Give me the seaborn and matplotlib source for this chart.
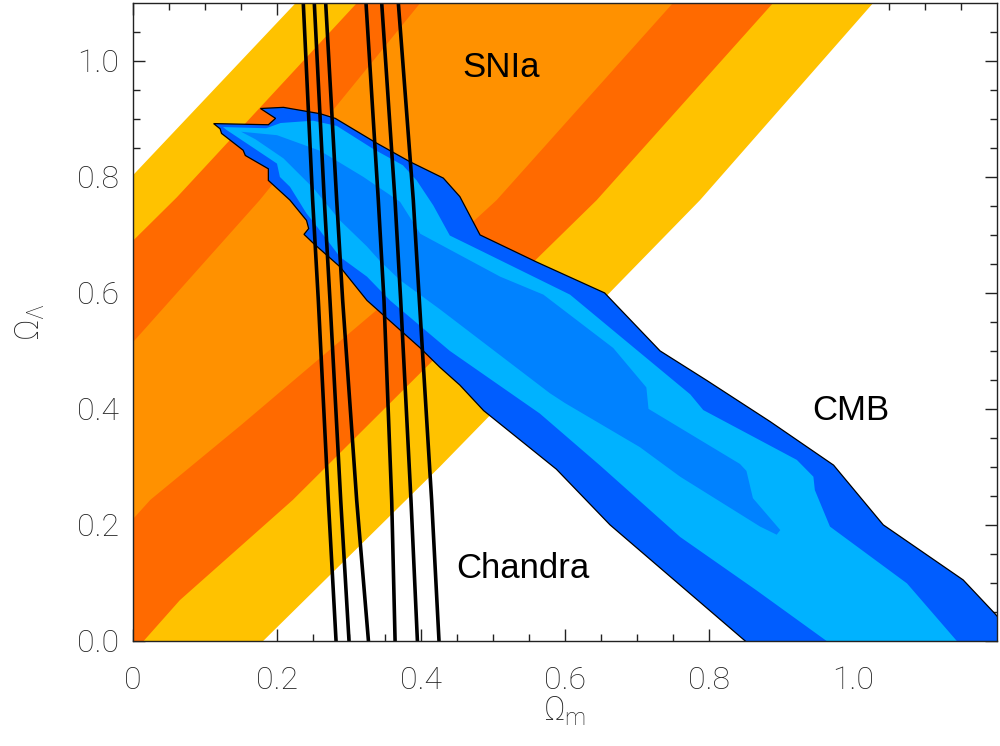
import numpy as np
import pandas as pd
import matplotlib
matplotlib.use("Agg")
import matplotlib.pyplot as plt
import seaborn as sns

# SNIa band edges (Omega_m, Omega_Lambda), each line runs a bit past the frame
yellow_upper_om = [-0.10, 0.0, 0.226, 0.30]
yellow_upper_ol = [0.67, 0.803, 1.10, 1.20]
dark_upper_om = [-0.10, 0.0, 0.061, 0.311, 0.385]
dark_upper_ol = [0.56, 0.69, 0.765, 1.10, 1.20]
orange_upper_om = [-0.10, 0.0, 0.176, 0.399, 0.465]
orange_upper_ol = [0.37, 0.515, 0.76, 1.10, 1.20]
orange_lower_om = [-0.10, 0.0, 0.024, 0.15, 0.338, 0.505, 0.75, 0.82]
orange_lower_ol = [0.11, 0.21, 0.243, 0.372, 0.57, 0.76, 1.10, 1.20]
dark_lower_om = [-0.08, 0.015, 0.065, 0.222, 0.417, 0.644, 0.889, 0.96]
dark_lower_ol = [-0.10, 0.0, 0.07, 0.243, 0.484, 0.76, 1.10, 1.20]
yellow_lower_om = [0.10, 0.181, 0.426, 0.7875, 1.028, 1.10]
yellow_lower_ol = [-0.10, 0.0, 0.30, 0.76, 1.10, 1.20]

# CMB contours (outer = 3 sigma, mid = 2 sigma, inner = 1 sigma)
cmb3_om = [0.112, 0.188, 0.198, 0.177, 0.209, 0.260, 0.281, 0.336, 0.385, 0.431,
           0.454, 0.482, 0.561, 0.655, 0.732, 0.797, 0.885, 0.973, 1.042, 1.153,
           1.197, 1.23, 1.23, 0.90, 0.85, 0.760, 0.6625, 0.588, 0.487, 0.454,
           0.426, 0.399, 0.371, 0.325, 0.2875, 0.251, 0.2375, 0.244, 0.241, 0.218,
           0.188, 0.188, 0.156, 0.153, 0.123, 0.121]
cmb3_ol = [0.892, 0.890, 0.901, 0.918, 0.920, 0.909, 0.901, 0.860, 0.826, 0.798,
           0.766, 0.700, 0.653, 0.600, 0.500, 0.449, 0.378, 0.303, 0.200, 0.105,
           0.047, 0.0, -0.05, -0.05, 0.0, 0.096, 0.200, 0.296, 0.397, 0.441,
           0.472, 0.505, 0.536, 0.587, 0.645, 0.685, 0.701, 0.711, 0.725, 0.760,
           0.794, 0.814, 0.837, 0.846, 0.875, 0.883]

cmb2_om = [0.125, 0.185, 0.205, 0.25, 0.283, 0.334, 0.375, 0.394, 0.417, 0.440,
           0.486, 0.607, 0.672, 0.774, 0.792, 0.922, 0.945, 0.947, 0.968, 1.075,
           1.144, 1.18, 0.99, 0.963, 0.866, 0.760, 0.649, 0.565, 0.44, 0.357,
           0.325, 0.2875, 0.252, 0.241, 0.218, 0.204, 0.2, 0.13]
cmb2_ol = [0.886, 0.884, 0.893, 0.897, 0.888, 0.848, 0.820, 0.794, 0.751, 0.699,
           0.671, 0.597, 0.530, 0.425, 0.398, 0.312, 0.283, 0.260, 0.197, 0.099,
           0.0, -0.05, -0.05, 0.0, 0.087, 0.179, 0.302, 0.392, 0.50, 0.587,
           0.628, 0.662, 0.72, 0.737, 0.783, 0.80, 0.823, 0.881]

cmb1_om = [0.15, 0.20, 0.26, 0.32, 0.371, 0.399, 0.510, 0.570, 0.667, 0.713,
           0.716, 0.843, 0.852, 0.861, 0.899, 0.894, 0.871, 0.760, 0.704, 0.60,
           0.579, 0.426, 0.371, 0.343, 0.325, 0.2875, 0.251, 0.209, 0.17]
cmb1_ol = [0.878, 0.872, 0.845, 0.800, 0.757, 0.702, 0.628, 0.597, 0.505, 0.437,
           0.400, 0.305, 0.293, 0.246, 0.191, 0.183, 0.197, 0.283, 0.334, 0.41,
           0.427, 0.572, 0.622, 0.655, 0.68, 0.725, 0.78, 0.832, 0.865]

# Chandra f_gas constraints: six curves sampled at these Omega_Lambda values
chandra_ol = [0.0, 0.242, 0.587, 0.76, 1.1]
chandra_om = [
    [0.282, 0.2713, 0.2574, 0.2495, 0.2365],
    [0.300, 0.2885, 0.2736, 0.2657, 0.2518],
    [0.327, 0.3107, 0.2912, 0.2829, 0.2676],
    [0.364, 0.3593, 0.3486, 0.3407, 0.3236],
    [0.395, 0.3861, 0.3718, 0.3639, 0.3454],
    [0.425, 0.4148, 0.3977, 0.3893, 0.3685],
]

xticks = [0, 0.2, 0.4, 0.6, 0.8, 1.0]
xtick_labels = ["0", "0.2", "0.4", "0.6", "0.8", "1.0"]
yticks = [0, 0.2, 0.4, 0.6, 0.8, 1.0]
ytick_labels = ["0.0", "0.2", "0.4", "0.6", "0.8", "1.0"]

sns.set_style("ticks")
plt.rcParams["font.family"] = ["Roboto", "DejaVu Sans"]
plt.rcParams["font.weight"] = "light"
plt.rcParams["mathtext.default"] = "regular"

fig, ax = plt.subplots(figsize=(10, 7.46), dpi=100)
fig.subplots_adjust(left=0.133, right=0.997, bottom=0.141, top=0.996)


def band(up_x, up_y, lo_x, lo_y):
    # closed outline: left edge upward, right edge downward, corner below the frame
    xs = list(up_x) + list(lo_x)[::-1] + [-0.15]
    ys = list(up_y) + list(lo_y)[::-1] + [-0.15]
    return xs, ys


for (ux, uy, lx, ly), col in [
    ((yellow_upper_om, yellow_upper_ol, yellow_lower_om, yellow_lower_ol), "#ffc200"),
    ((dark_upper_om, dark_upper_ol, dark_lower_om, dark_lower_ol), "#ff6a00"),
    ((orange_upper_om, orange_upper_ol, orange_lower_om, orange_lower_ol), "#ff9100"),
]:
    bx, by = band(ux, uy, lx, ly)
    ax.fill(bx, by, color=col, lw=0, zorder=1)

ax.fill(cmb3_om, cmb3_ol, facecolor="#005dff", edgecolor="black", lw=0.9, zorder=2)
ax.fill(cmb2_om, cmb2_ol, facecolor="#00b2ff", lw=0, zorder=3)
ax.fill(cmb1_om, cmb1_ol, facecolor="#0082ff", lw=0, zorder=4)

rows = []
for i, oms in enumerate(chandra_om):
    for om, ol in zip(oms, chandra_ol):
        rows.append({"om": om, "ol": ol, "line": i})
chandra = pd.DataFrame(rows)
sns.lineplot(data=chandra, x="om", y="ol", units="line", estimator=None,
             sort=False, color="black", lw=2.6, legend=False, ax=ax, zorder=5)

txt = dict(fontsize=25, family="Liberation Sans", weight="normal", color="black",
           ha="center", va="center", zorder=6)
ax.text(0.511, 0.989, "SNIa", **txt)
ax.text(0.997, 0.397, "CMB", **txt)
ax.text(0.541, 0.125, "Chandra", **txt)

ax.set_xlim(0, 1.2)
ax.set_ylim(0, 1.1)
ax.set_xticks(xticks)
ax.set_xticklabels(xtick_labels)
ax.set_yticks(yticks)
ax.set_yticklabels(ytick_labels)
ax.set_xticks(np.arange(0, 1.2, 0.05), minor=True)
ax.set_yticks(np.arange(0, 1.1, 0.05), minor=True)
ax.tick_params(which="both", direction="in", top=True, right=True,
               color="#222222", width=1, labelsize=23, labelcolor="#222222")
ax.tick_params(which="major", length=8.5)
ax.tick_params(which="minor", length=5)
ax.tick_params(axis="x", pad=18)
ax.tick_params(axis="y", pad=10)
for s in ax.spines.values():
    s.set_linewidth(1)
    s.set_color("#222222")
    s.set_zorder(7)

ax.set_xlabel(r"$\Omega_{m}$", fontsize=24, fontweight="light", color="#222222")
ax.set_ylabel(r"$\Omega_{\Lambda}$", fontsize=24, fontweight="light", color="#222222")
ax.xaxis.set_label_coords(0.5, -0.085)
ax.yaxis.set_label_coords(-0.10, 0.5)

fig.savefig("out.png", dpi=100)
